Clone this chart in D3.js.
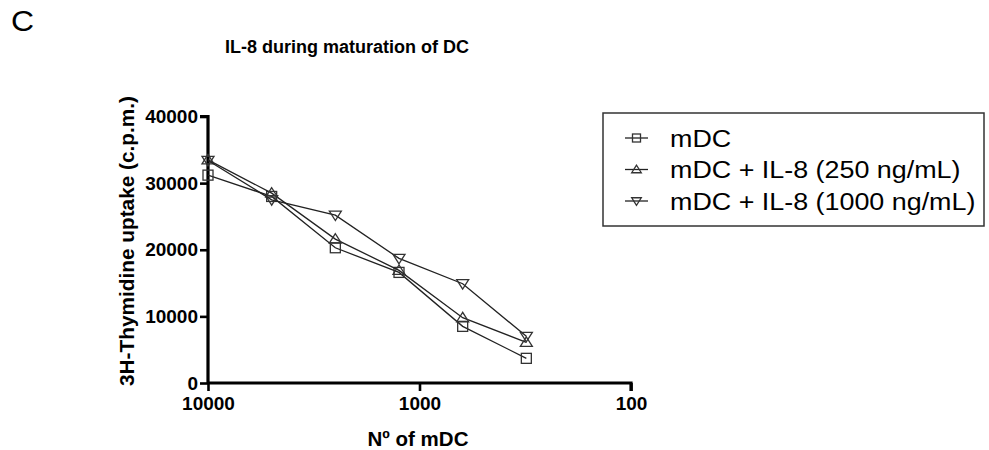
<!DOCTYPE html>
<html><head><meta charset="utf-8">
<script src="https://cdn.jsdelivr.net/npm/d3@7"></script>
<style>body{margin:0;background:#fff}svg{display:block}</style>
</head><body>
<script>
const cells = [10000, 5000, 2500, 1250, 625, 312.5];
const mDC = [31200, 28000, 20300, 16600, 8500, 3700];
const il8_250 = [33500, 28500, 21600, 16900, 9800, 6100];
const il8_1000 = [33400, 27500, 25200, 18700, 14900, 7000];
const seriesNames = ["mDC", "mDC + IL-8 (250 ng/mL)", "mDC + IL-8 (1000 ng/mL)"];
const seriesShapes = ["square", "up", "down"];
const xTicks = [10000, 1000, 100];
const yTicks = [0, 10000, 20000, 30000, 40000];

const W = 989, H = 450;
const font = "Liberation Sans, Arial, Helvetica, sans-serif";
const svg = d3.select("body").append("svg").attr("width", W).attr("height", H);
const x = d3.scaleLog().domain([10000, 100]).range([208, 631]);
const y = d3.scaleLinear().domain([0, 40000]).range([383, 116.5]);

function txt(px, py, s, size, opts = {}) {
  const sx = opts.sx || 1;
  return svg.append("text")
    .attr("transform", `translate(${px},${py}) scale(${sx},1)` + (opts.rotate ? ` rotate(${opts.rotate})` : ""))
    .attr("font-family", font).attr("font-size", size)
    .attr("font-weight", opts.bold ? "bold" : "normal")
    .attr("text-anchor", opts.anchor || "start").attr("fill", "#000").text(s);
}

txt(11, 31, "C", 29, {sx: 1.1});
txt(347, 53, "IL-8 during maturation of DC", 18, {bold: true, anchor: "middle"});

const yAxis = svg.append("g").attr("transform", "translate(208,0)")
  .call(d3.axisLeft(y).tickValues(yTicks).tickFormat(d3.format("d")).tickSize(8).tickPadding(2));
const xAxis = svg.append("g").attr("transform", "translate(0,383)")
  .call(d3.axisBottom(x).tickValues(xTicks).tickFormat(d3.format("d")).tickSize(8).tickPadding(6));
[yAxis, xAxis].forEach(a => {
  a.select(".domain").attr("stroke", "#000").attr("stroke-width", 3.2);
  a.selectAll(".tick line").attr("stroke", "#000").attr("stroke-width", 2.6);
  a.selectAll("text").attr("font-family", font).attr("font-weight", "bold")
    .attr("font-size", 19).attr("fill", "#000");
});
yAxis.select(".domain").attr("d", `M-8,${y(40000)}H0V${y(0)}`);
xAxis.select(".domain").attr("d", `M${x(10000)},0H${x(100)}V8`);

txt(134, 241, "3H-Thymidine uptake (c.p.m.)", 20.8, {bold: true, anchor: "middle", rotate: -90});
txt(418, 446, "Nº of mDC", 20.5, {bold: true, anchor: "middle"});

function marker(g, shape, cx, cy, s) {
  if (shape === "square") {
    g.append("rect").attr("x", cx - s/2).attr("y", cy - s/2).attr("width", s).attr("height", s)
      .attr("fill", "none").attr("stroke", "#333").attr("stroke-width", 1.3);
  } else {
    const h = s * 0.9, d = shape === "up" ? -1 : 1;
    const pts = [[cx, cy + d*h*0.6], [cx - s*0.6, cy - d*h*0.45], [cx + s*0.6, cy - d*h*0.45]];
    g.append("path").attr("d", "M" + pts.map(p => p.join(",")).join("L") + "Z")
      .attr("fill", "none").attr("stroke", "#333").attr("stroke-width", 1.3);
  }
}

const allSeries = [mDC, il8_250, il8_1000];
const line = d3.line().x(d => x(d[0])).y(d => y(d[1]));
allSeries.forEach((vals, i) => {
  const data = cells.map((c, j) => [c, vals[j]]);
  const g = svg.append("g");
  g.append("path").attr("d", line(data)).attr("fill", "none").attr("stroke", "#222").attr("stroke-width", 1.3);
  data.forEach(d => marker(g, seriesShapes[i], x(d[0]), y(d[1]), 10));
});

// legend
const lg = svg.append("g");
lg.append("rect").attr("x", 603).attr("y", 113).attr("width", 381).attr("height", 113)
  .attr("fill", "none").attr("stroke", "#333").attr("stroke-width", 1.5);
seriesNames.forEach((n, i) => {
  const ly = 138 + i * 31.5;
  lg.append("line").attr("x1", 625).attr("x2", 648).attr("y1", ly).attr("y2", ly).attr("stroke", "#222").attr("stroke-width", 1.3);
  marker(lg, seriesShapes[i], 636.5, ly, 8);
  txt(670, ly + 8.5, n, 24, {sx: 1.12});
});
</script>
</body></html>
